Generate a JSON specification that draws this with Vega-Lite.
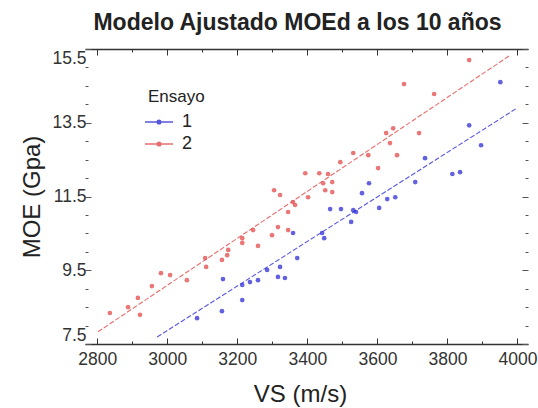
{
  "$schema": "https://vega.github.io/schema/vega-lite/v6.json",
  "width": 443,
  "height": 295,
  "autosize": {"type": "none"},
  "padding": {"left": 85, "top": 49, "right": 10, "bottom": 64},
  "background": "white",
  "title": {"text": "Modelo Ajustado MOEd a los 10 años", "font": "Liberation Sans", "fontSize": 23, "fontWeight": "bold", "color": "#222", "anchor": "middle", "dx": -9, "offset": 14},
  "config": {"view": {"stroke": null}, "font": "Liberation Sans"},
  "datasets": {
    "pts": [
      {"VS": 2836, "MOE": 8.34, "Ensayo": "2"},
      {"VS": 2888, "MOE": 8.50, "Ensayo": "2"},
      {"VS": 2916, "MOE": 8.75, "Ensayo": "2"},
      {"VS": 2922, "MOE": 8.29, "Ensayo": "2"},
      {"VS": 2956, "MOE": 9.07, "Ensayo": "2"},
      {"VS": 2982, "MOE": 9.42, "Ensayo": "2"},
      {"VS": 3008, "MOE": 9.37, "Ensayo": "2"},
      {"VS": 3056, "MOE": 9.23, "Ensayo": "2"},
      {"VS": 3108, "MOE": 9.83, "Ensayo": "2"},
      {"VS": 3111, "MOE": 9.59, "Ensayo": "2"},
      {"VS": 3156, "MOE": 9.78, "Ensayo": "2"},
      {"VS": 3171, "MOE": 9.91, "Ensayo": "2"},
      {"VS": 3174, "MOE": 10.05, "Ensayo": "2"},
      {"VS": 3214, "MOE": 10.37, "Ensayo": "2"},
      {"VS": 3214, "MOE": 10.24, "Ensayo": "2"},
      {"VS": 3245, "MOE": 10.59, "Ensayo": "2"},
      {"VS": 3259, "MOE": 10.16, "Ensayo": "2"},
      {"VS": 3299, "MOE": 10.45, "Ensayo": "2"},
      {"VS": 3316, "MOE": 10.67, "Ensayo": "2"},
      {"VS": 3345, "MOE": 10.59, "Ensayo": "2"},
      {"VS": 3345, "MOE": 11.08, "Ensayo": "2"},
      {"VS": 3305, "MOE": 11.67, "Ensayo": "2"},
      {"VS": 3322, "MOE": 11.54, "Ensayo": "2"},
      {"VS": 3359, "MOE": 11.35, "Ensayo": "2"},
      {"VS": 3365, "MOE": 11.27, "Ensayo": "2"},
      {"VS": 3394, "MOE": 12.13, "Ensayo": "2"},
      {"VS": 3402, "MOE": 11.48, "Ensayo": "2"},
      {"VS": 3434, "MOE": 12.13, "Ensayo": "2"},
      {"VS": 3445, "MOE": 11.86, "Ensayo": "2"},
      {"VS": 3451, "MOE": 11.67, "Ensayo": "2"},
      {"VS": 3459, "MOE": 12.11, "Ensayo": "2"},
      {"VS": 3471, "MOE": 11.89, "Ensayo": "2"},
      {"VS": 3471, "MOE": 11.62, "Ensayo": "2"},
      {"VS": 3494, "MOE": 12.43, "Ensayo": "2"},
      {"VS": 3531, "MOE": 12.68, "Ensayo": "2"},
      {"VS": 3574, "MOE": 12.62, "Ensayo": "2"},
      {"VS": 3602, "MOE": 12.27, "Ensayo": "2"},
      {"VS": 3625, "MOE": 13.22, "Ensayo": "2"},
      {"VS": 3636, "MOE": 12.95, "Ensayo": "2"},
      {"VS": 3645, "MOE": 13.35, "Ensayo": "2"},
      {"VS": 3656, "MOE": 12.62, "Ensayo": "2"},
      {"VS": 3676, "MOE": 14.55, "Ensayo": "2"},
      {"VS": 3719, "MOE": 13.22, "Ensayo": "2"},
      {"VS": 3762, "MOE": 14.28, "Ensayo": "2"},
      {"VS": 3862, "MOE": 15.20, "Ensayo": "2"},
      {"VS": 3085, "MOE": 8.20, "Ensayo": "1"},
      {"VS": 3156, "MOE": 8.39, "Ensayo": "1"},
      {"VS": 3159, "MOE": 9.26, "Ensayo": "1"},
      {"VS": 3214, "MOE": 8.69, "Ensayo": "1"},
      {"VS": 3214, "MOE": 9.10, "Ensayo": "1"},
      {"VS": 3236, "MOE": 9.18, "Ensayo": "1"},
      {"VS": 3259, "MOE": 9.23, "Ensayo": "1"},
      {"VS": 3285, "MOE": 9.51, "Ensayo": "1"},
      {"VS": 3316, "MOE": 9.32, "Ensayo": "1"},
      {"VS": 3322, "MOE": 9.59, "Ensayo": "1"},
      {"VS": 3336, "MOE": 9.29, "Ensayo": "1"},
      {"VS": 3371, "MOE": 9.83, "Ensayo": "1"},
      {"VS": 3359, "MOE": 10.51, "Ensayo": "1"},
      {"VS": 3442, "MOE": 10.51, "Ensayo": "1"},
      {"VS": 3448, "MOE": 10.37, "Ensayo": "1"},
      {"VS": 3465, "MOE": 11.16, "Ensayo": "1"},
      {"VS": 3496, "MOE": 11.16, "Ensayo": "1"},
      {"VS": 3531, "MOE": 11.13, "Ensayo": "1"},
      {"VS": 3539, "MOE": 11.08, "Ensayo": "1"},
      {"VS": 3525, "MOE": 10.81, "Ensayo": "1"},
      {"VS": 3556, "MOE": 11.59, "Ensayo": "1"},
      {"VS": 3576, "MOE": 11.86, "Ensayo": "1"},
      {"VS": 3605, "MOE": 11.19, "Ensayo": "1"},
      {"VS": 3628, "MOE": 11.43, "Ensayo": "1"},
      {"VS": 3651, "MOE": 11.48, "Ensayo": "1"},
      {"VS": 3708, "MOE": 11.89, "Ensayo": "1"},
      {"VS": 3736, "MOE": 12.54, "Ensayo": "1"},
      {"VS": 3814, "MOE": 12.11, "Ensayo": "1"},
      {"VS": 3836, "MOE": 12.16, "Ensayo": "1"},
      {"VS": 3862, "MOE": 13.43, "Ensayo": "1"},
      {"VS": 3896, "MOE": 12.89, "Ensayo": "1"},
      {"VS": 3951, "MOE": 14.60, "Ensayo": "1"}
    ],
    "fit": [
      {"VS": 2971, "MOE": 7.69, "Ensayo": "1"},
      {"VS": 3999, "MOE": 13.90, "Ensayo": "1"},
      {"VS": 2802, "MOE": 7.83, "Ensayo": "2"},
      {"VS": 3979, "MOE": 15.33, "Ensayo": "2"}
    ]
  },
  "layer": [
    {
      "data": {"name": "pts"},
      "mark": {"type": "circle", "size": 22, "opacity": 0.75},
      "encoding": {
        "x": {
          "field": "VS", "type": "quantitative",
          "scale": {"domain": [2765, 4030], "nice": false, "zero": false},
          "axis": {
            "orient": "bottom",
            "values": [2800, 2900, 3000, 3100, 3200, 3300, 3400, 3500, 3600, 3700, 3800, 3900, 4000],
            "format": "d",
            "labelExpr": "datum.value % 200 == 0 ? datum.label : ''",
            "title": "VS (m/s)",
            "titleFont": "Liberation Sans", "titleFontSize": 24, "titleFontWeight": "normal", "titleColor": "#222",
            "titlePadding": 15, "titleX": 215,
            "labelFont": "Liberation Sans", "labelFontSize": 17.5, "labelColor": "#333",
            "labelPadding": 12,
            "tickSize": {"condition": {"test": "datum.value % 200 == 0", "value": -6}, "value": -3},
            "tickColor": "#333", "domainColor": "#333", "domainWidth": 1.5,
            "grid": false
          }
        },
        "y": {
          "field": "MOE", "type": "quantitative",
          "scale": {"domain": [7.5, 15.5], "nice": false, "zero": false},
          "axis": {
            "orient": "left",
            "values": [7.5, 8, 8.5, 9, 9.5, 10, 10.5, 11, 11.5, 12, 12.5, 13, 13.5, 14, 14.5, 15, 15.5],
            "format": ".1f",
            "labelExpr": "(datum.value - 7.5) % 2 == 0 ? datum.label : ''",
            "labelFlush": true,
            "title": "MOE (Gpa)",
            "titleFont": "Liberation Sans", "titleFontSize": 24, "titleFontWeight": "normal", "titleColor": "#222",
            "titlePadding": 7,
            "labelFont": "Liberation Sans", "labelFontSize": 17.5, "labelColor": "#333",
            "labelPadding": 5,
            "tickSize": {"condition": {"test": "(datum.value - 7.5) % 2 == 0", "value": -6}, "value": -3},
            "tickColor": "#555",
            "domain": false,
            "grid": false
          }
        },
        "color": {
          "field": "Ensayo", "type": "nominal",
          "scale": {"domain": ["1", "2"], "range": ["#2e2ed6", "#e24a4a"]},
          "legend": {
            "orient": "none", "legendX": 63, "legendY": 40,
            "title": "Ensayo",
            "titleFont": "Liberation Sans", "titleFontSize": 17, "titleFontWeight": "normal", "titleColor": "#222",
            "labelFont": "Liberation Sans", "labelFontSize": 18, "labelColor": "#222",
            "symbolType": "M-1.4,0H1.4M-0.18,0a0.18,0.18 0 1,0 0.36,0a0.18,0.18 0 1,0 -0.36,0",
            "symbolSize": 400, "symbolStrokeWidth": 1.5, "symbolOpacity": 1,
            "rowPadding": 2, "labelOffset": 12, "padding": 0
          }
        }
      }
    },
    {
      "data": {"name": "fit"},
      "mark": {"type": "line", "strokeWidth": 1.1, "strokeDash": [5, 2], "opacity": 0.8},
      "encoding": {
        "x": {
          "field": "VS", "type": "quantitative",
          "axis": {"orient": "top", "labels": false, "title": null, "values": [2800, 2900, 3000, 3100, 3200, 3300, 3400, 3500, 3600, 3700, 3800, 3900, 4000],
            "tickSize": {"condition": {"test": "datum.value % 200 == 0", "value": -6}, "value": -3},
            "tickColor": "#333", "domainColor": "#333", "domainWidth": 1.5, "grid": false}
        },
        "y": {
          "field": "MOE", "type": "quantitative",
          "axis": {"orient": "right", "labels": false, "title": null, "values": [7.5, 8, 8.5, 9, 9.5, 10, 10.5, 11, 11.5, 12, 12.5, 13, 13.5, 14, 14.5, 15, 15.5],
            "tickSize": {"condition": {"test": "(datum.value - 7.5) % 2 == 0", "value": -6}, "value": -3},
            "tickColor": "#555", "domain": false, "grid": false}
        },
        "color": {"field": "Ensayo", "type": "nominal"},
        "detail": {"field": "Ensayo"}
      }
    }
  ],
  "resolve": {"axis": {"x": "independent", "y": "independent"}}
}
